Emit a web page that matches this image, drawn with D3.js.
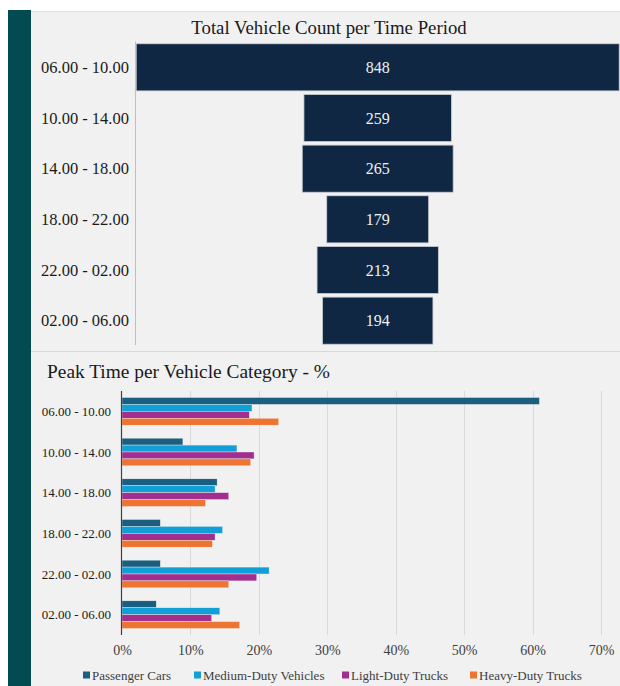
<!DOCTYPE html>
<html>
<head>
<meta charset="utf-8">
<script src="https://cdn.jsdelivr.net/npm/d3@7"></script>
<style>
  html, body { margin: 0; padding: 0; background: #ffffff; }
  svg { display: block; }
  text { font-family: "Liberation Serif", "DejaVu Serif", serif; }
</style>
</head>
<body>
<svg id="chart" width="620" height="686"></svg>
<script>
// Time periods shared by both panels
const periods = ["06.00 - 10.00", "10.00 - 14.00", "14.00 - 18.00", "18.00 - 22.00", "22.00 - 02.00", "02.00 - 06.00"];

// Total vehicles counted in each period
const totalCounts = [848, 259, 265, 179, 213, 194];

// Share of each vehicle category falling in each period (%)
const categories = ["Passenger Cars", "Medium-Duty Vehicles", "Light-Duty Trucks", "Heavy-Duty Trucks"];
const passengerCars = [61.0, 8.9, 13.9, 5.6, 5.6, 5.0];
const mediumDuty = [19.0, 16.8, 13.6, 14.7, 21.5, 14.3];
const lightDuty = [18.6, 19.3, 15.6, 13.6, 19.7, 13.1];
const heavyDuty = [22.9, 18.8, 12.2, 13.2, 15.6, 17.2];

// Percent axis ticks
const pctTicks = [0, 10, 20, 30, 40, 50, 60, 70];

const categoryColors = ["#1b5e80", "#119fd8", "#a02f8f", "#ee7431"];

const svg = d3.select("#chart");

// Page frame: light panel with a dark teal strip on the left
svg.append("rect").attr("x", 31).attr("y", 11.5).attr("width", 589).attr("height", 675)
  .attr("fill", "#f1f1f1");
svg.append("line").attr("x1", 31).attr("x2", 620).attr("y1", 11.5).attr("y2", 11.5)
  .attr("stroke", "#dedede").attr("stroke-width", 1);
svg.append("rect").attr("x", 8).attr("y", 10).attr("width", 23).attr("height", 676)
  .attr("fill", "#024b51");
// divider between the two panels
svg.append("line").attr("x1", 31).attr("x2", 620).attr("y1", 351.5).attr("y2", 351.5)
  .attr("stroke", "#d9d9d9").attr("stroke-width", 1);

// ---------- Funnel: total vehicle count per period ----------
const funnel = svg.append("g");
funnel.append("text").attr("x", 329).attr("y", 34).attr("text-anchor", "middle")
  .attr("font-size", 18.8).attr("fill", "#1a1a1a")
  .text("Total Vehicle Count per Time Period");

const yTop = d3.scaleBand().domain(periods).range([42, 346]).paddingInner(0.07).paddingOuter(0.035);
const wTop = d3.scaleLinear().domain([0, 848]).range([0, 483]);
const cx = 377.7;

funnel.append("line").attr("x1", 135.5).attr("x2", 135.5).attr("y1", 41.5).attr("y2", 345)
  .attr("stroke", "#bfbfbf").attr("stroke-width", 1);

funnel.selectAll("rect.count").data(periods).join("rect").attr("class", "count")
  .attr("x", (d, i) => cx - wTop(totalCounts[i]) / 2)
  .attr("y", d => yTop(d))
  .attr("width", (d, i) => wTop(totalCounts[i]))
  .attr("height", yTop.bandwidth())
  .attr("fill", "#0f2742")
  .attr("stroke", "#c9ced6").attr("stroke-width", 0.8);

funnel.selectAll("text.count").data(periods).join("text").attr("class", "count")
  .attr("x", cx)
  .attr("y", d => yTop(d) + yTop.bandwidth() / 2 + 5.5)
  .attr("text-anchor", "middle").attr("font-size", 16).attr("fill", "#f2f2f2")
  .text((d, i) => totalCounts[i]);

funnel.selectAll("text.period").data(periods).join("text").attr("class", "period")
  .attr("x", 129)
  .attr("y", d => yTop(d) + yTop.bandwidth() / 2 + 5.5)
  .attr("text-anchor", "end").attr("font-size", 16.5).attr("fill", "#1a1a1a")
  .text(d => d);

// ---------- Clustered bars: peak time per vehicle category ----------
const bars = svg.append("g");
bars.append("text").attr("x", 47).attr("y", 378)
  .attr("font-size", 19.4).attr("fill", "#1a1a1a")
  .text("Peak Time per Vehicle Category - %");

const series = [passengerCars, mediumDuty, lightDuty, heavyDuty];
const x = d3.scaleLinear().domain([0, 70]).range([122, 601]);
const y = d3.scaleBand().domain(periods).range([391, 635]).paddingInner(0.32).paddingOuter(0.16);
const ySub = d3.scaleBand().domain(categories).range([0, y.bandwidth()]);

// vertical gridlines
bars.append("g").selectAll("line").data(pctTicks.slice(1)).join("line")
  .attr("x1", d => Math.round(x(d)) + 0.5).attr("x2", d => Math.round(x(d)) + 0.5)
  .attr("y1", 391).attr("y2", 635)
  .attr("stroke", "#d9d9d9").attr("stroke-width", 1);

// bars
const groups = bars.append("g").selectAll("g").data(periods).join("g")
  .attr("transform", d => `translate(0,${y(d)})`);
groups.selectAll("rect").data((d, i) => categories.map((c, k) => ({ c, k, v: series[k][i] })))
  .join("rect")
  .attr("x", x(0))
  .attr("y", d => ySub(d.c))
  .attr("width", d => x(d.v) - x(0))
  .attr("height", ySub.bandwidth())
  .attr("fill", d => categoryColors[d.k])
  .attr("stroke", "#f1f1f1").attr("stroke-width", 0.4);

// category axis line and labels
bars.append("line").attr("x1", 121.5).attr("x2", 121.5).attr("y1", 391).attr("y2", 635)
  .attr("stroke", "#404040").attr("stroke-width", 1.2);
bars.append("g").selectAll("text").data(periods).join("text")
  .attr("x", 111).attr("y", d => y(d) + y.bandwidth() / 2 + 4.5)
  .attr("text-anchor", "end").attr("font-size", 13).attr("fill", "#1a1a1a")
  .text(d => d);

// percent axis labels
const xAxis = d3.axisBottom(x).tickValues(pctTicks).tickFormat(d => d + "%").tickSize(0).tickPadding(0);
const xg = bars.append("g").attr("transform", "translate(0,645)").call(xAxis);
xg.select(".domain").remove();
xg.selectAll("text").attr("font-size", 14).attr("fill", "#404040")
  .attr("font-family", "Liberation Serif, DejaVu Serif, serif").attr("dy", "0.71em");

// legend
const legendX = [83, 194, 342, 470];
const leg = bars.append("g").selectAll("g").data(categories).join("g")
  .attr("transform", (d, i) => `translate(${legendX[i]},675)`);
leg.append("rect").attr("x", 0).attr("y", -3.5).attr("width", 7).attr("height", 7)
  .attr("fill", (d, i) => categoryColors[i]);
leg.append("text").attr("x", 9).attr("y", 4.5).attr("font-size", 13).attr("fill", "#404040")
  .text(d => d);
</script>
</body>
</html>
